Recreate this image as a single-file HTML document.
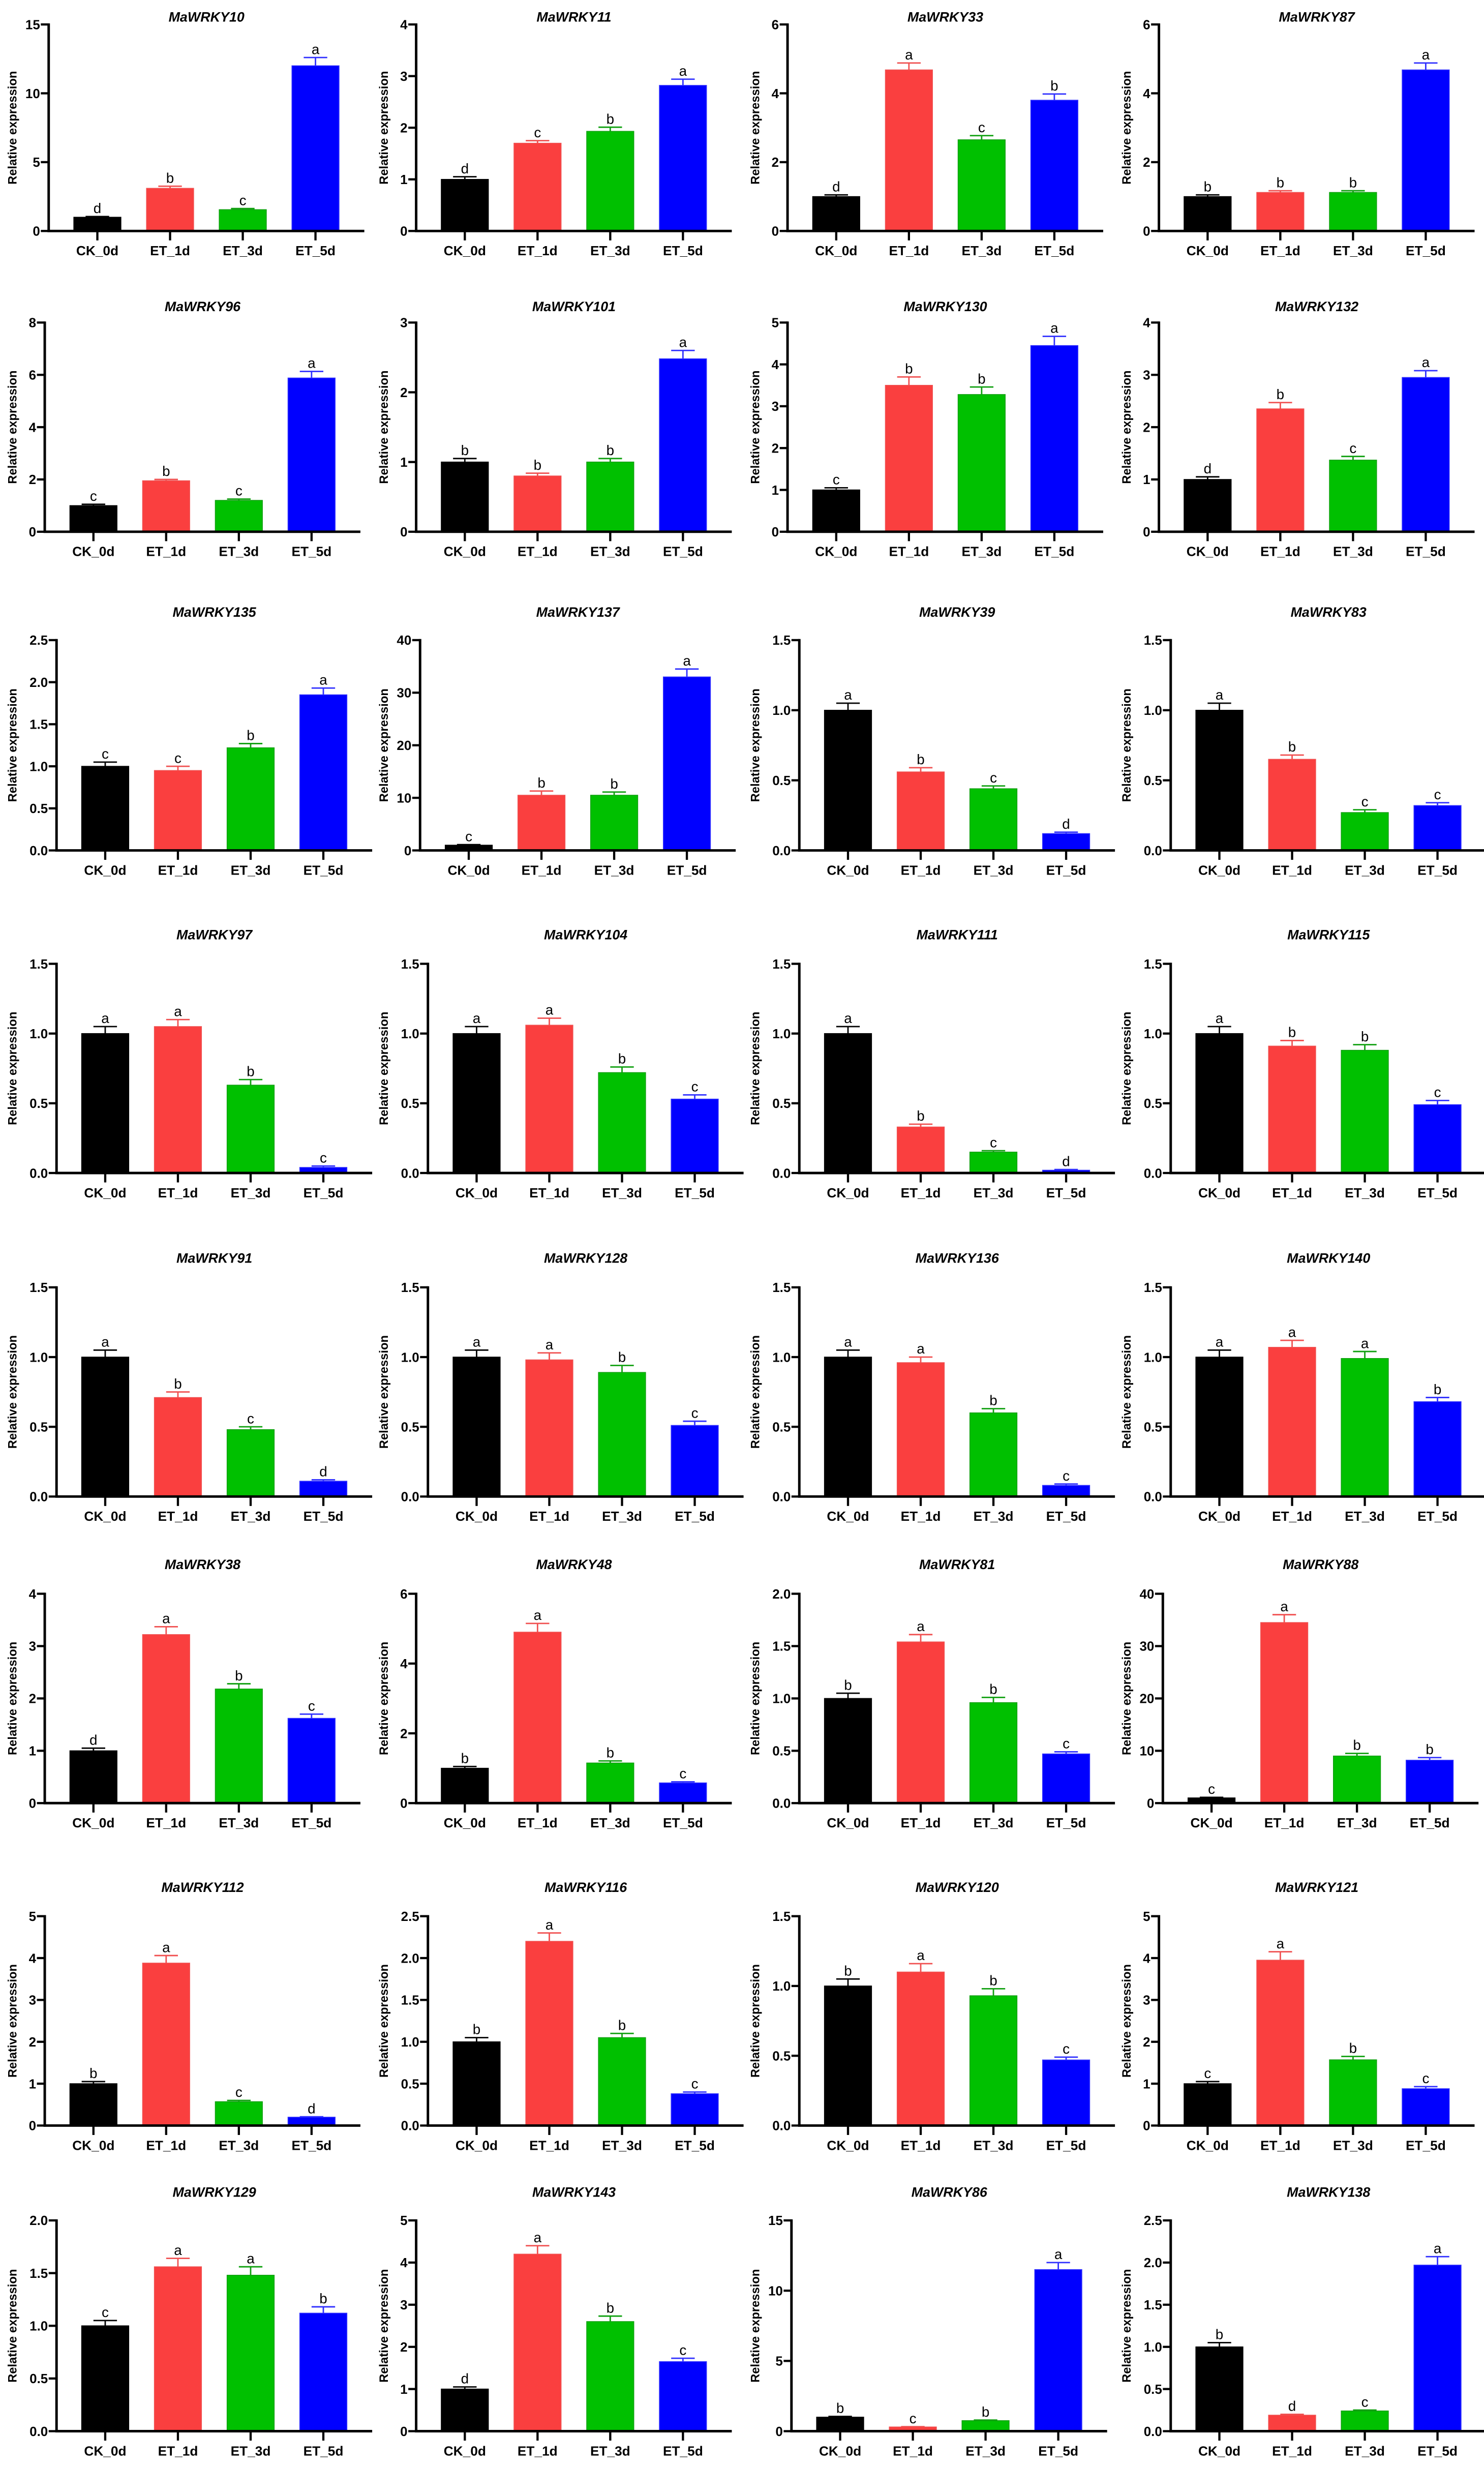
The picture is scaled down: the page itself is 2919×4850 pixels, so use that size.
<!DOCTYPE html>
<html><head><meta charset="utf-8"><style>
html,body{margin:0;padding:0;background:#fff}
svg{display:block}
text{font-family:"Liberation Sans",Arial,sans-serif}
</style></head><body>
<svg id="fig" xmlns="http://www.w3.org/2000/svg" width="2919" height="4850" viewBox="0 0 945 1570"></svg>
<script>
const genes = ["MaWRKY10","MaWRKY11","MaWRKY33","MaWRKY87","MaWRKY96","MaWRKY101","MaWRKY130","MaWRKY132","MaWRKY135","MaWRKY137","MaWRKY39","MaWRKY83","MaWRKY97","MaWRKY104","MaWRKY111","MaWRKY115","MaWRKY91","MaWRKY128","MaWRKY136","MaWRKY140","MaWRKY38","MaWRKY48","MaWRKY81","MaWRKY88","MaWRKY112","MaWRKY116","MaWRKY120","MaWRKY121","MaWRKY129","MaWRKY143","MaWRKY86","MaWRKY138"];
const categories = ["CK_0d","ET_1d","ET_3d","ET_5d"];
const yMax = [15,4,6,6, 8,3,5,4, 2.5,40,1.5,1.5, 1.5,1.5,1.5,1.5, 1.5,1.5,1.5,1.5, 4,6,2.0,40, 5,2.5,1.5,5, 2.0,5,15,2.5];
const yStep = [5,1,2,2, 2,1,1,1, 0.5,10,0.5,0.5, 0.5,0.5,0.5,0.5, 0.5,0.5,0.5,0.5, 1,2,0.5,10, 1,0.5,0.5,1, 0.5,1,5,0.5];
const values = [
[1.0,3.1,1.55,12.0],[1.0,1.7,1.93,2.82],[1.0,4.68,2.65,3.8],[1.0,1.12,1.12,4.68],
[1.0,1.95,1.2,5.88],[1.0,0.8,1.0,2.48],[1.0,3.5,3.28,4.45],[1.0,2.35,1.37,2.95],
[1.0,0.95,1.22,1.85],[1.0,10.5,10.5,33],[1.0,0.56,0.44,0.12],[1.0,0.65,0.27,0.32],
[1.0,1.05,0.63,0.04],[1.0,1.06,0.72,0.53],[1.0,0.33,0.15,0.02],[1.0,0.91,0.88,0.49],
[1.0,0.71,0.48,0.11],[1.0,0.98,0.89,0.51],[1.0,0.96,0.6,0.08],[1.0,1.07,0.99,0.68],
[1.0,3.22,2.18,1.62],[1.0,4.9,1.15,0.58],[1.0,1.54,0.96,0.47],[1.0,34.5,9.0,8.2],
[1.0,3.88,0.57,0.2],[1.0,2.2,1.05,0.38],[1.0,1.1,0.93,0.47],[1.0,3.95,1.57,0.88],
[1.0,1.56,1.48,1.12],[1.0,4.2,2.6,1.65],[1.0,0.3,0.75,11.5],[1.0,0.19,0.24,1.97]];
const errors = [
[0.05,0.15,0.08,0.6],[0.05,0.05,0.08,0.12],[0.05,0.2,0.12,0.18],[0.05,0.05,0.05,0.2],
[0.05,0.05,0.05,0.25],[0.05,0.04,0.05,0.12],[0.05,0.2,0.18,0.22],[0.05,0.12,0.07,0.13],
[0.05,0.05,0.05,0.08],[0.1,0.8,0.6,1.5],[0.05,0.03,0.02,0.01],[0.05,0.03,0.02,0.02],
[0.05,0.05,0.04,0.01],[0.05,0.05,0.04,0.03],[0.05,0.02,0.01,0.005],[0.05,0.04,0.04,0.03],
[0.05,0.04,0.02,0.01],[0.05,0.05,0.05,0.03],[0.05,0.04,0.03,0.01],[0.05,0.05,0.05,0.03],
[0.05,0.15,0.1,0.08],[0.05,0.25,0.06,0.03],[0.05,0.07,0.05,0.02],[0.1,1.5,0.5,0.5],
[0.05,0.18,0.03,0.01],[0.05,0.1,0.05,0.02],[0.05,0.06,0.05,0.02],[0.05,0.2,0.08,0.05],
[0.05,0.08,0.08,0.06],[0.05,0.2,0.13,0.08],[0.05,0.02,0.04,0.5],[0.05,0.01,0.01,0.1]];
const letters = [
["d","b","c","a"],["d","c","b","a"],["d","a","c","b"],["b","b","b","a"],
["c","b","c","a"],["b","b","b","a"],["c","b","b","a"],["d","b","c","a"],
["c","c","b","a"],["c","b","b","a"],["a","b","c","d"],["a","b","c","c"],
["a","a","b","c"],["a","a","b","c"],["a","b","c","d"],["a","b","b","c"],
["a","b","c","d"],["a","a","b","c"],["a","a","b","c"],["a","a","a","b"],
["d","a","b","c"],["b","a","b","c"],["b","a","b","c"],["c","a","b","b"],
["b","a","c","d"],["b","a","b","c"],["b","a","b","c"],["c","a","b","c"],
["c","a","a","b"],["d","a","b","c"],["b","c","b","a"],["b","d","c","a"]];

const fills = ["#000000","#fa3f3f","#00c000","#0000ff"];
const errCols = ["#000000","#f05050","#10a010","#3030ff"];
const rowTitleY = [10.7,195,389.6,595,801,996,1201.5,1395.7];
const rowTop = [15.5,205.3,407.5,613.6,819.6,1014.7,1220,1413.7];
const rowBase = [147,338.5,541.4,746.8,952.8,1148,1353.3,1547.9];
const colX = [0,236.5,473,709.5];
const NS="http://www.w3.org/2000/svg";
const svg=document.getElementById('fig');
function el(tag,attrs,parent,txt){const e=document.createElementNS(NS,tag);for(const k in attrs)e.setAttribute(k,attrs[k]);if(txt!==undefined)e.textContent=txt;parent.appendChild(e);return e;}

genes.forEach((g,i)=>{
  const r=Math.floor(i/4), c=i%4;
  const ox=colX[c];
  const grp=el('g',{},svg);
  
  
  const tY=rowTitleY[r], top=rowTop[r], base=rowBase[r];
  const dec=yStep[i]<1, two=yMax[i]>=10;
  const axX=ox+(dec?36:(two?31:28.5)), axEnd=axX+201;
  const y=v=>base-(v/yMax[i])*(base-top);
  const xC=k=>axX+31+k*46.3;
  const t=el('text',{x:axX+100.5,y:tY+3,'text-anchor':'middle','font-size':8.7,'font-weight':'bold','font-style':'italic'},grp,g);
  
  
  const yl=el('text',{x:0,y:0,transform:`translate(${ox+10.5},${(top+base)/2}) rotate(-90)`,'text-anchor':'middle','font-size':7.7,'font-weight':'bold'},grp,'Relative expression');
  
  
  const nT=Math.round(yMax[i]/yStep[i]);
  for(let k=0;k<=nT;k++){
    const v=k*yStep[i], yy=y(v);
    el('line',{x1:axX-5,x2:axX,y1:yy,y2:yy,stroke:'#000','stroke-width':1.4},grp);
    const tl=el('text',{x:axX-5.5,y:yy+3,'text-anchor':'end','font-size':8.4,'font-weight':'bold'},grp,dec?v.toFixed(1):String(v));
    
    
  }
  categories.forEach((cat,k)=>{
    const v=values[i][k], e=errors[i][k], cx=xC(k), bw=30;
    const b=el('rect',{x:cx-bw/2,y:y(v),width:bw,height:base-y(v),fill:fills[k],stroke:errCols[k],'stroke-width':0.5},grp);
    
    
    const ye=y(v+e);
    el('line',{x1:cx,x2:cx,y1:y(v),y2:ye,stroke:errCols[k],'stroke-width':0.9},grp);
    el('line',{x1:cx-7.5,x2:cx+7.5,y1:ye,y2:ye,stroke:errCols[k],'stroke-width':0.9},grp);
    const lt=el('text',{x:cx,y:ye-2.2,'text-anchor':'middle','font-size':9},grp,letters[i][k]);
    
    
    el('line',{x1:cx,x2:cx,y1:base,y2:base+6,stroke:'#000','stroke-width':1.4},grp);
    const xl=el('text',{x:cx,y:base+15.5,'text-anchor':'middle','font-size':8.5,'font-weight':'bold'},grp,cat);
    
    
  });
  el('line',{x1:axX,x2:axX,y1:top-0.7,y2:base+0.7,stroke:'#000','stroke-width':1.6},grp);
  el('line',{x1:axX-0.8,x2:axEnd,y1:base,y2:base,stroke:'#000','stroke-width':1.6},grp);
});
</script>
</body></html>
